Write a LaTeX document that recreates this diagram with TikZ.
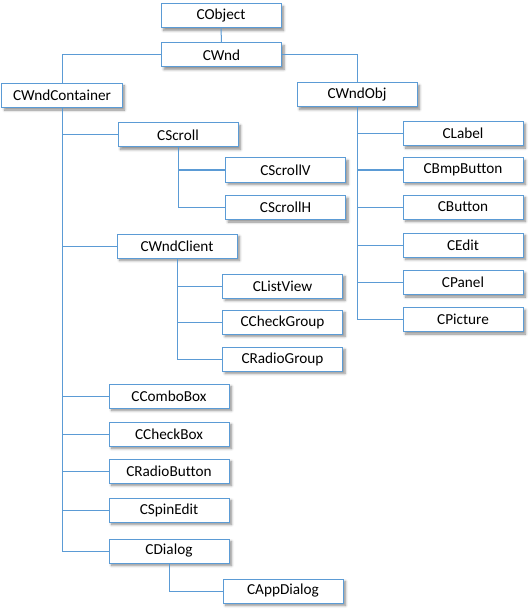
\documentclass[tikz,border=0pt]{standalone}
\usepackage{fontspec}
\setmainfont{Carlito}[Ligatures={NoCommon}]
\usetikzlibrary{shadows.blur}
\definecolor{lineblue}{HTML}{5B9BD5}
\begin{document}
\begin{tikzpicture}[x=1bp,y=-1bp,
  cls/.style={draw=lineblue, line width=1bp, fill=white, minimum width=120bp, minimum height=24bp,
    inner sep=0pt, font=\fontsize{15.3}{18}\selectfont,
    blur shadow={shadow xshift=2.5bp, shadow yshift=-2.5bp, shadow blur steps=6, shadow blur radius=2.5bp, shadow opacity=45}},
  link/.style={draw=lineblue, line width=1bp}]
\useasboundingbox (0,0) rectangle (531,610);
\node[cls] (CObject) at (221,16) {CObject};
\node[cls] (CWnd) at (221.5,55) {CWnd};
\node[cls] (CWndContainer) at (62,95.5) {CWndContainer};
\node[cls] (CWndObj) at (357,95) {CWndObj};
\node[cls] (CScroll) at (178,135) {CScroll};
\node[cls] (CScrollV) at (285.5,170) {CScrollV};
\node[cls] (CScrollH) at (285.5,207.5) {CScrollH};
\node[cls] (CWndClient) at (177,246) {CWndClient};
\node[cls] (CListView) at (282.5,286) {CListView};
\node[cls] (CCheckGroup) at (282.5,322) {CCheckGroup};
\node[cls] (CRadioGroup) at (282.5,359) {CRadioGroup};
\node[cls] (CComboBox) at (169,396) {CComboBox};
\node[cls] (CCheckBox) at (169,434) {CCheckBox};
\node[cls] (CRadioButton) at (169,471) {CRadioButton};
\node[cls] (CSpinEdit) at (169,510) {CSpinEdit};
\node[cls] (CDialog) at (169,551) {CDialog};
\node[cls] (CAppDialog) at (283,591) {CAppDialog};
\node[cls] (CLabel) at (463,133.5) {CLabel};
\node[cls] (CBmpButton) at (463,170) {CBmpButton};
\node[cls] (CButton) at (463,207) {CButton};
\node[cls] (CEdit) at (463,245) {CEdit};
\node[cls] (CPanel) at (463,282.5) {CPanel};
\node[cls] (CPicture) at (463,319.5) {CPicture};
\path[link] (CObject) -- (CWnd);
\path[link] (CWnd.west) -| (CWndContainer.north);
\path[link] (CWnd.east) -| (CWndObj.north);
\foreach \c in {CScroll,CWndClient,CComboBox,CCheckBox,CRadioButton,CSpinEdit,CDialog}
  \path[link] (CWndContainer.south) |- (\c.west);
\foreach \c in {CScrollV,CScrollH}
  \path[link] (CScroll.south) |- (\c.west);
\foreach \c in {CListView,CCheckGroup,CRadioGroup}
  \path[link] (CWndClient.south) |- (\c.west);
\path[link] (CDialog.south) |- (CAppDialog.west);
\foreach \c in {CLabel,CBmpButton,CButton,CEdit,CPanel,CPicture}
  \path[link] (CWndObj.south) |- (\c.west);
\end{tikzpicture}
\end{document}
